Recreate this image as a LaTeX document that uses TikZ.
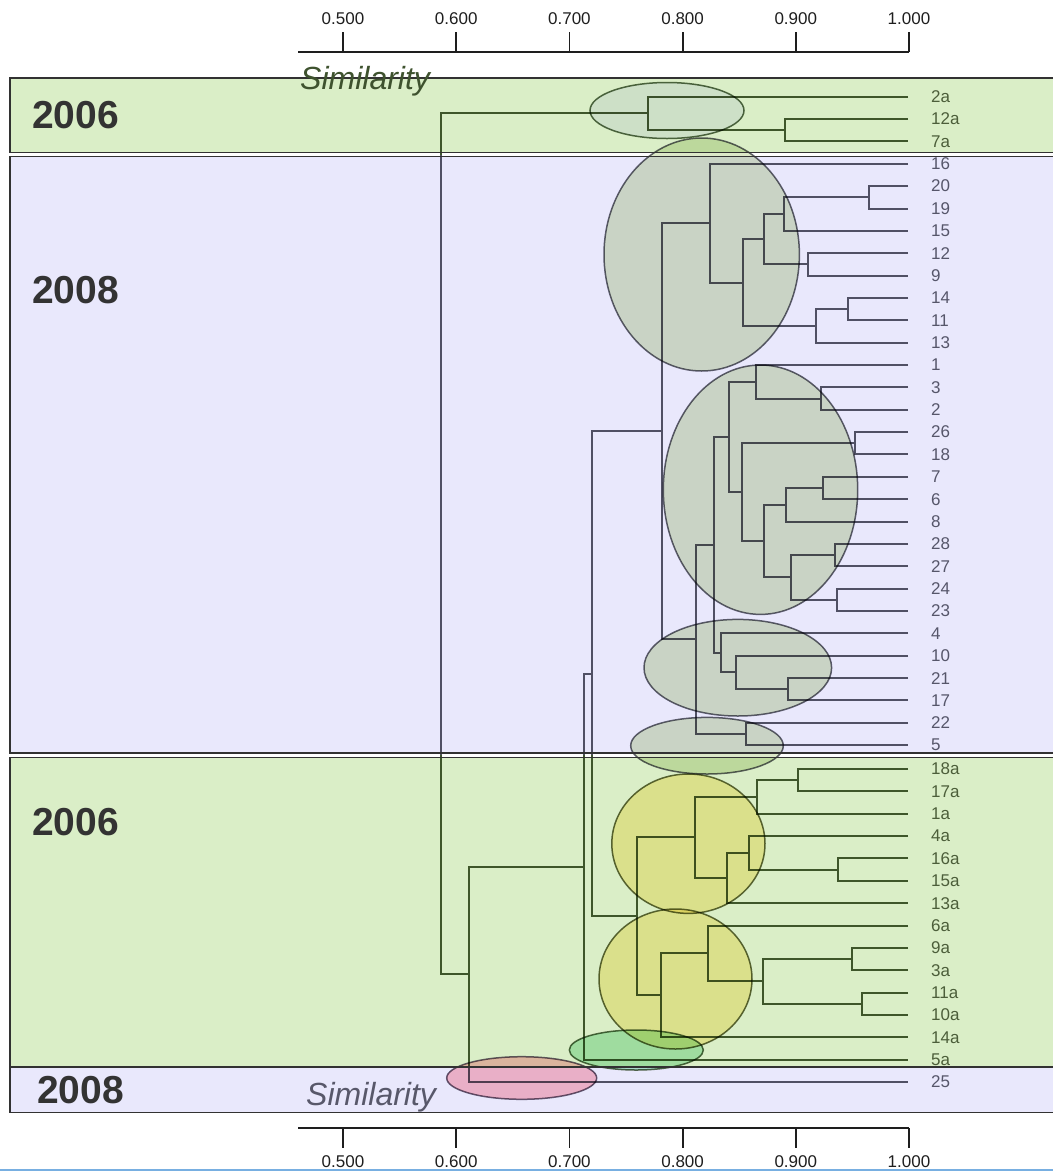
\documentclass[tikz,border=0pt]{standalone}
\usepackage{fontspec}
\setmainfont{Liberation Sans}
\usetikzlibrary{calc}
\definecolor{grnband}{RGB}{218,238,199}
\definecolor{lavband}{RGB}{233,232,252}
\definecolor{grnline}{RGB}{62,86,42}
\definecolor{lavline}{RGB}{80,80,100}
\definecolor{grntext}{RGB}{76,94,58}
\definecolor{lavtext}{RGB}{86,86,106}
\definecolor{bandedge}{RGB}{50,50,50}
\definecolor{yeartext}{RGB}{51,51,51}
\definecolor{axiscol}{RGB}{30,30,30}
\definecolor{ellgray}{RGB}{220,232,200}
\definecolor{elltop}{RGB}{240,240,255}
\definecolor{ellyel}{RGB}{255,240,179}
\definecolor{ellgrn}{RGB}{187,236,205}
\definecolor{ellpink}{RGB}{255,193,202}
\definecolor{rimgray}{RGB}{100,100,112}
\definecolor{rimgrn}{RGB}{88,108,76}
\definecolor{rimyel}{RGB}{100,108,70}
\definecolor{rimpink}{RGB}{105,95,115}
\definecolor{simgreen}{RGB}{62,82,46}
\definecolor{simgray}{RGB}{88,88,106}
\definecolor{edgeblue}{RGB}{120,175,225}

\newcommand\mrg[4]{%
  \coordinate (tmpa) at ($(#3)!.5!(#4)$);
  \coordinate (tmpb) at (#2,0);
  \coordinate (#1) at (tmpa -| tmpb);
  \draw[dline] (#3) -| (#1) |- (#4);}

\newcommand\leaf[3]{%
  \coordinate (l#1) at (908,#2);
  \node[leaflbl,text=#3] (n#1) at (931,#2) {#1};}

\newcommand\treelines{%
  \mrg{T1}{785}{l12a}{l7a}
  \mrg{T2}{648}{l2a}{T1}
  \mrg{A1}{869}{l20}{l19}
  \mrg{A2}{784}{A1}{l15}
  \mrg{A3}{808}{l12}{l9}
  \mrg{A4}{764}{A2}{A3}
  \mrg{A5}{848}{l14}{l11}
  \mrg{A6}{816}{A5}{l13}
  \mrg{A7}{743}{A4}{A6}
  \mrg{A8}{710}{l16}{A7}
  \mrg{B1}{821}{l3}{l2}
  \mrg{B2}{756}{l1}{B1}
  \mrg{B3}{855}{l26}{l18}
  \mrg{B4}{823}{l7}{l6}
  \mrg{B5}{786}{B4}{l8}
  \mrg{B6}{835}{l28}{l27}
  \mrg{B7}{837}{l24}{l23}
  \mrg{B8}{791}{B6}{B7}
  \mrg{B9}{764}{B5}{B8}
  \mrg{B10}{742}{B3}{B9}
  \mrg{B11}{729}{B2}{B10}
  \mrg{C1}{788}{l21}{l17}
  \mrg{C2}{736}{l10}{C1}
  \mrg{C3}{721}{l4}{C2}
  \mrg{B12}{714}{B11}{C3}
  \mrg{D1}{746}{l22}{l5}
  \mrg{B13}{696}{B12}{D1}
  \mrg{G08}{662}{A8}{B13}
  \mrg{E1}{798}{l18a}{l17a}
  \mrg{E2}{757}{E1}{l1a}
  \mrg{E3}{838}{l16a}{l15a}
  \mrg{E4}{749}{l4a}{E3}
  \mrg{E5}{727}{E4}{l13a}
  \mrg{E6}{694.5}{E2}{E5}
  \mrg{F1}{852}{l9a}{l3a}
  \mrg{F2}{862}{l11a}{l10a}
  \mrg{F3}{763}{F1}{F2}
  \mrg{F4}{708}{l6a}{F3}
  \mrg{F5}{661}{F4}{l14a}
  \mrg{G06}{637}{E6}{F5}
  \mrg{H1}{592}{G08}{G06}
  \mrg{H2}{584}{H1}{l5a}
  \mrg{H3}{469}{H2}{l25}
  \mrg{ROOT}{441}{T2}{H3}}

\begin{document}
\begin{tikzpicture}[x=1pt,y=-1pt,
  leaflbl/.style={anchor=west,inner sep=0pt,font=\fontsize{17}{20}\selectfont},
  yearlbl/.style={anchor=west,inner sep=0pt,text=yeartext,font=\fontsize{39}{46}\selectfont\bfseries},
  simlbl/.style={anchor=base west,inner sep=0pt,font=\fontsize{32}{38}\selectfont\itshape},
  axlbl/.style={inner sep=0pt,text=axiscol,font=\fontsize{17}{20}\selectfont},
  axline/.style={draw=axiscol,line width=1.8pt},
  bandgrn/.style={fill=grnband},
  bandlav/.style={fill=lavband},
  bandrim/.style={draw=bandedge,line width=1.6pt},
  ell/.style={line width=1.5pt}]
\useasboundingbox (0,0) rectangle (1053,1171);
\clip (0,0) rectangle (1053,1171);

% bands
\path[bandgrn] (10,78) rectangle (1070,152.5);
\path[bandlav] (10,156.5) rectangle (1070,753);
\path[bandgrn] (10,757.5) rectangle (1070,1067);
\path[bandlav] (10,1067) rectangle (1070,1112.5);

% leaves
\leaf{2a}{96.7}{grntext}
\leaf{12a}{119.06}{grntext}
\leaf{7a}{141.42}{grntext}
\leaf{16}{163.78}{lavtext}
\leaf{20}{186.14}{lavtext}
\leaf{19}{208.5}{lavtext}
\leaf{15}{230.86}{lavtext}
\leaf{12}{253.22}{lavtext}
\leaf{9}{275.58}{lavtext}
\leaf{14}{297.94}{lavtext}
\leaf{11}{320.3}{lavtext}
\leaf{13}{342.66}{lavtext}
\leaf{1}{365.02}{lavtext}
\leaf{3}{387.38}{lavtext}
\leaf{2}{409.74}{lavtext}
\leaf{26}{432.1}{lavtext}
\leaf{18}{454.46}{lavtext}
\leaf{7}{476.82}{lavtext}
\leaf{6}{499.18}{lavtext}
\leaf{8}{521.54}{lavtext}
\leaf{28}{543.9}{lavtext}
\leaf{27}{566.26}{lavtext}
\leaf{24}{588.62}{lavtext}
\leaf{23}{610.98}{lavtext}
\leaf{4}{633.34}{lavtext}
\leaf{10}{655.7}{lavtext}
\leaf{21}{678.06}{lavtext}
\leaf{17}{700.42}{lavtext}
\leaf{22}{722.78}{lavtext}
\leaf{5}{745.14}{lavtext}
\leaf{18a}{769}{grntext}
\leaf{17a}{791.36}{grntext}
\leaf{1a}{813.72}{grntext}
\leaf{4a}{836.08}{grntext}
\leaf{16a}{858.44}{grntext}
\leaf{15a}{880.8}{grntext}
\leaf{13a}{903.16}{grntext}
\leaf{6a}{925.52}{grntext}
\leaf{9a}{947.88}{grntext}
\leaf{3a}{970.24}{grntext}
\leaf{11a}{992.6}{grntext}
\leaf{10a}{1014.96}{grntext}
\leaf{14a}{1037.32}{grntext}
\leaf{5a}{1059.68}{grntext}
\leaf{25}{1082.04}{lavtext}

% dendrogram, coloured by band
\begin{scope}
  \clip (0,0) rectangle (1053,155) (0,755) rectangle (1053,1067.5);
  \tikzset{dline/.style={draw=grnline,line width=2pt}}
  \treelines
\end{scope}
\begin{scope}
  \clip (0,155) rectangle (1053,755) (0,1067.5) rectangle (1053,1171);
  \tikzset{dline/.style={draw=lavline,line width=2pt}}
  \treelines
\end{scope}

% cluster ellipses
\begin{scope}[blend mode=multiply]
  \path[ell,fill=elltop,draw=rimgrn] (667,110.5) ellipse [x radius=77pt,y radius=28pt];
  \path[ell,fill=ellgray,draw=rimgray] (701.7,254.5) ellipse [x radius=97.7pt,y radius=116.5pt];
  \path[ell,fill=ellgray,draw=rimgray] (760.5,489.7) ellipse [x radius=97.2pt,y radius=124.7pt];
  \path[ell,fill=ellgray,draw=rimgray] (737.8,667.7) ellipse [x radius=93.8pt,y radius=48.3pt];
  \path[ell,fill=ellgray,draw=rimgray] (707,745.7) ellipse [x radius=76.3pt,y radius=28.3pt];
  \path[ell,fill=ellyel,draw=rimyel] (688.4,843.7) ellipse [x radius=76.6pt,y radius=69.7pt];
  \path[ell,fill=ellyel,draw=rimyel] (675.5,979) ellipse [x radius=76.5pt,y radius=70pt];
  \path[ell,fill=ellgrn,draw=rimgrn] (636.3,1050) ellipse [x radius=67pt,y radius=20pt];
  \path[ell,fill=ellpink,draw=rimpink] (521.7,1078) ellipse [x radius=75pt,y radius=21.3pt];
\end{scope}

% band borders
\path[bandrim] (10,78) rectangle (1070,152.5);
\path[bandrim] (10,156.5) rectangle (1070,753);
\path[bandrim] (10,757.5) rectangle (1070,1067);
\path[bandrim] (10,1067) rectangle (1070,1112.5);

% year labels
\node[yearlbl] (y1) at (32,115.5) {2006};
\node[yearlbl] (y2) at (32,290) {2008};
\node[yearlbl] (y3) at (32,822) {2006};
\node[yearlbl] (y4) at (37,1090.5) {2008};

% similarity captions
\node[simlbl,text=simgreen] (s1) at (300,89.5) {Similarity};
\node[simlbl,text=simgray] (s2) at (306,1105) {Similarity};

% axes
\draw[axline] (298,52) -- (909,52);
\draw[axline] (298,1128) -- (909,1128);
\foreach \v [count=\i from 0] in {0.500,0.600,0.700,0.800,0.900,1.000}{
  \pgfmathsetmacro\xx{343+113.2*\i}
  \draw[axline] (\xx,32) -- (\xx,52);
  \draw[axline] (\xx,1128) -- (\xx,1148);
  \node[axlbl] (ta\i) at (\xx,19) {\v};
  \node[axlbl] (ba\i) at (\xx,1162) {\v};
}

% bottom edge line
\draw[draw=edgeblue,line width=2pt] (0,1170) -- (1053,1170);
\end{tikzpicture}
\end{document}
